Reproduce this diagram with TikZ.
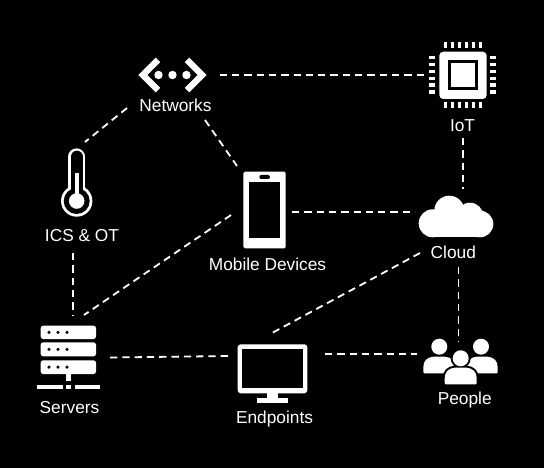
\documentclass[tikz,border=0pt]{standalone}
\usepackage{fontspec}
\setmainfont{Liberation Sans}
\tikzset{
  link/.style={draw=white,line width=1.8pt,dash pattern=on 7.3pt off 5pt},
  lbl/.style={text=white,anchor=base,inner sep=0pt,font=\fontsize{17.3}{20}\selectfont},
  ink/.style={fill=white,draw=none},
  hole/.style={fill=black,draw=none},
  halo/.style={fill=black,draw=black,line width=4pt},
}
\newcommand{\personbody}[5]{% x0,x1,ytop,ybot,style
  \path[#5] (#1+1,#4) -- (#2-1,#4) -- (#2,#4-1) -- (#2,#4-6)
    .. controls (#2,#3+4) and (#2-4,#3+0.5) .. (#2-10,#3) -- (#1+10,#3)
    .. controls (#1+4,#3+0.5) and (#1,#3+4) .. (#1,#4-6) -- (#1,#4-1) -- cycle;}
\begin{document}
\begin{tikzpicture}[x=1pt,y=-1pt]
\path[fill=black] (0,0) rectangle (544,468);
\useasboundingbox (0,0) rectangle (544,468);

% connector ends
\coordinate (netE) at (219.7,75);
\coordinate (iotW) at (425,75);
\coordinate (netSW) at (127,108);
\coordinate (icsN) at (85,142);
\coordinate (netSE) at (205,120);
\coordinate (mobNW) at (237,166);
\coordinate (iotS) at (463,138);
\coordinate (cloudN) at (463,189);
\coordinate (mobE) at (292,212);
\coordinate (cloudW) at (415,212);
\coordinate (mobSW) at (231,215);
\coordinate (srvNE) at (84,315);
\coordinate (icsS) at (73,253);
\coordinate (srvN) at (73,315);
\coordinate (cloudSW) at (420,253);
\coordinate (endNE) at (272,333);
\coordinate (cloudS) at (458.5,267);
\coordinate (pplN) at (458.5,341);
\coordinate (srvE) at (110,357.5);
\coordinate (endW) at (230,356);
\coordinate (endE) at (325,354);
\coordinate (pplW) at (417,354);

\draw[link] (netE) -- (iotW);
\draw[link] (netSW) -- (icsN);
\draw[link] (netSE) -- (mobNW);
\draw[link] (iotS) -- (cloudN);
\draw[link] (mobE) -- (cloudW);
\draw[link] (mobSW) -- (srvNE);
\draw[link] (icsS) -- (srvN);
\draw[link] (cloudSW) -- (endNE);
\draw[link] (cloudS) -- (pplN);
\draw[link] (srvE) -- (endW);
\draw[link] (endE) -- (pplW);

% Networks icon
\draw[white,line width=6.5pt,miter limit=10] (158,59.9) -- (142.9,75) -- (158,90.1);
\draw[white,line width=6.5pt,miter limit=10] (187,59.9) -- (202.1,75) -- (187,90.1);
\foreach \x in {158.5,172.5,186.5} \fill[white] (\x,75) circle[radius=4.2];

% IoT icon
\path[ink,rounded corners=4pt] (439.3,51.7) rectangle (486.7,99);
\path[hole] (447.7,60) rectangle (478.3,90);
\path[ink] (451,63) rectangle (475,87);
\foreach \x in {445.3,452.3,459.3,466.3,473.3,480.3}{
  \path[ink] (\x-1.8,42) rectangle (\x+1.8,47.7);
  \path[ink] (\x-1.8,102.3) rectangle (\x+1.8,108);
}
\foreach \y in {57.7,64.6,71.5,78.4,85.3,92.2}{
  \path[ink] (429.3,\y-1.8) rectangle (435.3,\y+1.8);
  \path[ink] (490.3,\y-1.8) rectangle (496.2,\y+1.8);
}

% Thermometer icon
\draw[white,line width=16.7pt,line cap=round] (76.7,156.7) -- (76.7,200);
\fill[white] (76.7,201) circle[radius=15.7];
\draw[black,line width=12pt,line cap=round] (76.7,156.7) -- (76.7,200);
\fill[black] (76.7,201) circle[radius=13];
\fill[white] (76.7,201) circle[radius=7.8];
\path[ink] (75,173) rectangle (78.6,196);

% Phone icon
\path[ink,rounded corners=1.5pt] (243.3,171.7) rectangle (285.7,248.3);
\path[hole] (248.7,182.3) rectangle (280.3,238.3);
\path[hole,rounded corners=2pt] (259.3,175) rectangle (270,179);

% Cloud icon
\fill[white] (432.7,223.3) circle[radius=14];
\fill[white] (449.3,210.7) circle[radius=15];
\fill[white] (470,216) circle[radius=13.3];
\fill[white] (480,224) circle[radius=13.3];
\path[ink] (432.7,215) rectangle (480,237.3);

% Servers icon
\foreach \a/\b in {325.7/339,342.3/356.3,360.3/374}{
  \path[ink,rounded corners=2.5pt] (40.7,\a) rectangle (96,\b);
  \foreach \x in {49,58,67} \fill[black] (\x,{(\a+\b)/2}) circle[radius=1.7];
}
\path[ink] (66,374) rectangle (71,381);
\path[ink] (37,384.7) rectangle (62.7,389.3);
\path[ink] (65.7,384.7) rectangle (71.3,389.3);
\path[ink] (75,384.7) rectangle (100,389.3);

% Monitor icon
\path[ink,rounded corners=3pt] (237.7,344.3) rectangle (307.3,393.3);
\path[hole] (242.3,349) rectangle (302.7,388.3);
\path[ink] (267.3,393) rectangle (278.3,398.5);
\path[ink] (257,398.3) rectangle (288.3,403.3);

% People icon
\fill[white] (439.3,346.7) circle[radius=8];
\personbody{423.3}{455}{356.7}{373.3}{ink}
\fill[white] (481,346.7) circle[radius=8];
\personbody{466.7}{497.7}{356.7}{373.3}{ink}
\fill[black] (460.7,358.3) circle[radius=10];
\personbody{444.7}{476.7}{367.7}{384.3}{halo}
\fill[white] (460.7,358.3) circle[radius=8];
\personbody{444.7}{476.7}{367.7}{384.3}{ink}

% Labels
\node[lbl] (networks) at (175.5,111.3) {Networks};
\node[lbl] (iot) at (462.5,131.3) {IoT};
\node[lbl] (ics) at (82,241.3) {ICS \& OT};
\node[lbl] (mobile) at (267.5,270) {Mobile Devices};
\node[lbl] (cloud) at (453.3,258.5) {Cloud};
\node[lbl] (servers) at (69.5,413) {Servers};
\node[lbl] (endpoints) at (274.5,423) {Endpoints};
\node[lbl] (people) at (464.7,404) {People};
\end{tikzpicture}
\end{document}
